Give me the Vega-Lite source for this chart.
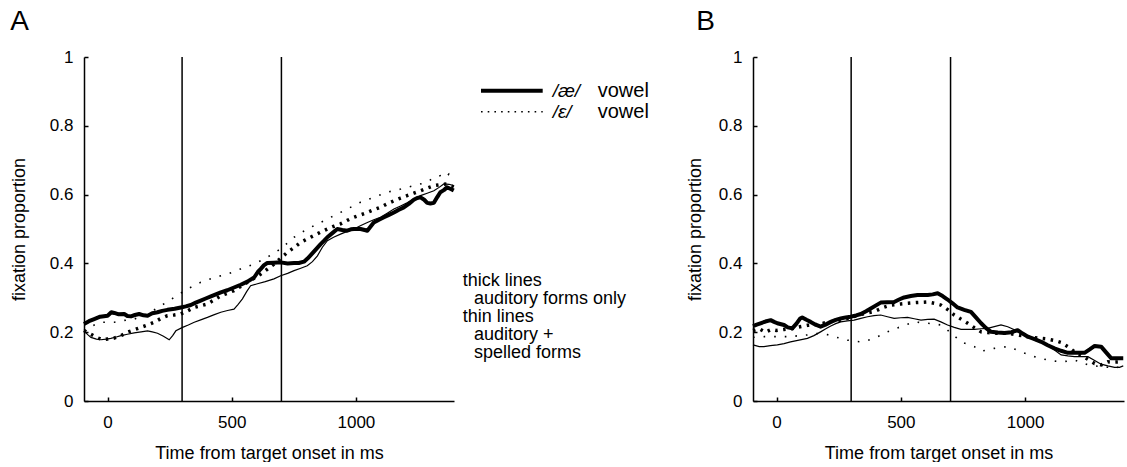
{
  "$schema": "https://vega.github.io/schema/vega-lite/v6.json",
  "background": "white",
  "padding": {"left": 10, "top": 8, "right": 0, "bottom": 0},
  "bounds": "flush",
  "spacing": 7,
  "config": {
    "font": "Liberation Sans",
    "view": {"stroke": null},
    "axis": {
      "domainColor": "black", "domainWidth": 1.5, "tickColor": "black", "tickWidth": 1.5, "tickSize": -4,
      "labelColor": "black", "titleColor": "black", "labelFontSize": 17, "titleFontSize": 18,
      "titleFontWeight": "normal", "grid": false, "labelFont": "Liberation Sans", "titleFont": "Liberation Sans"
    },
    "title": {"fontSize": 28, "fontWeight": "normal", "anchor": "start", "frame": "bounds", "color": "black", "font": "Liberation Sans", "offset": 12}
  },
  "datasets": {
    "vlines": [{"t": 300}, {"t": 700}],
    "A_ae_aud": [
      {"t":-95,"p":0.224},{"t":-75,"p":0.232},{"t":-54,"p":0.238},{"t":-30,"p":0.245},{"t":0,"p":0.248},{"t":15,"p":0.258},{"t":27,"p":0.256},{"t":45,"p":0.252},{"t":67,"p":0.253},{"t":80,"p":0.247},{"t":94,"p":0.246},{"t":110,"p":0.25},{"t":127,"p":0.253},{"t":145,"p":0.249},{"t":161,"p":0.248},{"t":180,"p":0.255},{"t":201,"p":0.258},{"t":220,"p":0.262},{"t":241,"p":0.265},{"t":270,"p":0.268},{"t":295,"p":0.272},{"t":315,"p":0.275},{"t":335,"p":0.279},{"t":355,"p":0.286},{"t":375,"p":0.292},{"t":395,"p":0.298},{"t":416,"p":0.304},{"t":436,"p":0.31},{"t":456,"p":0.316},{"t":482,"p":0.322},{"t":509,"p":0.33},{"t":536,"p":0.338},{"t":563,"p":0.347},{"t":590,"p":0.359},{"t":605,"p":0.375},{"t":617,"p":0.384},{"t":630,"p":0.395},{"t":643,"p":0.401},{"t":670,"p":0.402},{"t":697,"p":0.403},{"t":725,"p":0.4},{"t":751,"p":0.401},{"t":770,"p":0.401},{"t":791,"p":0.405},{"t":805,"p":0.414},{"t":818,"p":0.424},{"t":838,"p":0.44},{"t":858,"p":0.456},{"t":872,"p":0.466},{"t":885,"p":0.476},{"t":905,"p":0.488},{"t":925,"p":0.5},{"t":945,"p":0.497},{"t":965,"p":0.495},{"t":980,"p":0.499},{"t":992,"p":0.5},{"t":1005,"p":0.5},{"t":1019,"p":0.5},{"t":1035,"p":0.497},{"t":1046,"p":0.495},{"t":1060,"p":0.508},{"t":1072,"p":0.519},{"t":1093,"p":0.527},{"t":1113,"p":0.534},{"t":1133,"p":0.541},{"t":1153,"p":0.548},{"t":1173,"p":0.556},{"t":1193,"p":0.563},{"t":1213,"p":0.573},{"t":1233,"p":0.585},{"t":1247,"p":0.59},{"t":1260,"p":0.592},{"t":1275,"p":0.585},{"t":1287,"p":0.576},{"t":1300,"p":0.574},{"t":1314,"p":0.576},{"t":1327,"p":0.592},{"t":1340,"p":0.607},{"t":1354,"p":0.613},{"t":1367,"p":0.621},{"t":1380,"p":0.617},{"t":1394,"p":0.612}
    ],
    "A_ae_spell": [
      {"t":-95,"p":0.204},{"t":-80,"p":0.193},{"t":-67,"p":0.185},{"t":-45,"p":0.18},{"t":-27,"p":0.178},{"t":-5,"p":0.18},{"t":13,"p":0.182},{"t":35,"p":0.186},{"t":54,"p":0.19},{"t":80,"p":0.194},{"t":107,"p":0.198},{"t":135,"p":0.201},{"t":161,"p":0.204},{"t":180,"p":0.201},{"t":201,"p":0.197},{"t":225,"p":0.188},{"t":248,"p":0.178},{"t":262,"p":0.19},{"t":275,"p":0.204},{"t":302,"p":0.214},{"t":325,"p":0.221},{"t":349,"p":0.229},{"t":375,"p":0.236},{"t":402,"p":0.243},{"t":430,"p":0.251},{"t":456,"p":0.258},{"t":483,"p":0.263},{"t":509,"p":0.267},{"t":525,"p":0.28},{"t":543,"p":0.297},{"t":560,"p":0.318},{"t":576,"p":0.335},{"t":600,"p":0.34},{"t":635,"p":0.347},{"t":670,"p":0.355},{"t":697,"p":0.364},{"t":725,"p":0.371},{"t":751,"p":0.379},{"t":778,"p":0.386},{"t":804,"p":0.393},{"t":825,"p":0.405},{"t":845,"p":0.422},{"t":865,"p":0.447},{"t":885,"p":0.466},{"t":910,"p":0.476},{"t":938,"p":0.485},{"t":965,"p":0.493},{"t":992,"p":0.5},{"t":1020,"p":0.51},{"t":1046,"p":0.519},{"t":1072,"p":0.527},{"t":1099,"p":0.534},{"t":1126,"p":0.546},{"t":1153,"p":0.558},{"t":1180,"p":0.567},{"t":1206,"p":0.576},{"t":1233,"p":0.587},{"t":1260,"p":0.597},{"t":1287,"p":0.604},{"t":1314,"p":0.611},{"t":1335,"p":0.621},{"t":1354,"p":0.631},{"t":1375,"p":0.63},{"t":1394,"p":0.626}
    ],
    "A_eh_aud": [
      {"t":-95,"p":0.205},{"t":-70,"p":0.195},{"t":-45,"p":0.185},{"t":-20,"p":0.178},{"t":0,"p":0.18},{"t":27,"p":0.183},{"t":54,"p":0.19},{"t":80,"p":0.2},{"t":107,"p":0.207},{"t":134,"p":0.214},{"t":161,"p":0.221},{"t":188,"p":0.229},{"t":215,"p":0.24},{"t":241,"p":0.248},{"t":268,"p":0.25},{"t":295,"p":0.253},{"t":322,"p":0.262},{"t":349,"p":0.272},{"t":375,"p":0.277},{"t":402,"p":0.282},{"t":429,"p":0.294},{"t":456,"p":0.306},{"t":483,"p":0.313},{"t":509,"p":0.321},{"t":536,"p":0.333},{"t":563,"p":0.345},{"t":590,"p":0.357},{"t":617,"p":0.369},{"t":643,"p":0.383},{"t":670,"p":0.398},{"t":697,"p":0.415},{"t":724,"p":0.432},{"t":751,"p":0.446},{"t":777,"p":0.461},{"t":804,"p":0.471},{"t":831,"p":0.481},{"t":858,"p":0.491},{"t":885,"p":0.5},{"t":912,"p":0.508},{"t":938,"p":0.515},{"t":965,"p":0.525},{"t":992,"p":0.534},{"t":1019,"p":0.541},{"t":1046,"p":0.548},{"t":1072,"p":0.556},{"t":1099,"p":0.563},{"t":1126,"p":0.573},{"t":1153,"p":0.582},{"t":1180,"p":0.59},{"t":1206,"p":0.597},{"t":1233,"p":0.604},{"t":1260,"p":0.611},{"t":1287,"p":0.619},{"t":1314,"p":0.626},{"t":1340,"p":0.629},{"t":1367,"p":0.631},{"t":1394,"p":0.622}
    ],
    "A_eh_spell": [
      {"t":-95,"p":0.205},{"t":-60,"p":0.219},{"t":-27,"p":0.229},{"t":0,"p":0.229},{"t":27,"p":0.229},{"t":54,"p":0.233},{"t":107,"p":0.238},{"t":161,"p":0.253},{"t":215,"p":0.277},{"t":268,"p":0.301},{"t":322,"p":0.326},{"t":375,"p":0.345},{"t":429,"p":0.359},{"t":483,"p":0.369},{"t":536,"p":0.384},{"t":590,"p":0.398},{"t":643,"p":0.418},{"t":697,"p":0.442},{"t":751,"p":0.476},{"t":804,"p":0.5},{"t":858,"p":0.519},{"t":912,"p":0.539},{"t":965,"p":0.558},{"t":1019,"p":0.578},{"t":1072,"p":0.592},{"t":1126,"p":0.607},{"t":1180,"p":0.616},{"t":1233,"p":0.626},{"t":1287,"p":0.636},{"t":1314,"p":0.65},{"t":1340,"p":0.655},{"t":1360,"p":0.648},{"t":1375,"p":0.66},{"t":1394,"p":0.645}
    ],
    "B_ae_aud": [
      {"t":-95,"p":0.218},{"t":-80,"p":0.222},{"t":-65,"p":0.226},{"t":-45,"p":0.231},{"t":-24,"p":0.235},{"t":-10,"p":0.23},{"t":3,"p":0.226},{"t":30,"p":0.221},{"t":45,"p":0.214},{"t":63,"p":0.211},{"t":80,"p":0.225},{"t":95,"p":0.24},{"t":103,"p":0.243},{"t":120,"p":0.236},{"t":137,"p":0.23},{"t":157,"p":0.222},{"t":177,"p":0.216},{"t":197,"p":0.222},{"t":218,"p":0.23},{"t":238,"p":0.236},{"t":258,"p":0.24},{"t":278,"p":0.243},{"t":298,"p":0.245},{"t":320,"p":0.249},{"t":339,"p":0.253},{"t":360,"p":0.261},{"t":379,"p":0.269},{"t":400,"p":0.278},{"t":419,"p":0.286},{"t":445,"p":0.287},{"t":473,"p":0.288},{"t":493,"p":0.295},{"t":513,"p":0.301},{"t":540,"p":0.305},{"t":567,"p":0.308},{"t":590,"p":0.308},{"t":608,"p":0.308},{"t":628,"p":0.31},{"t":648,"p":0.313},{"t":668,"p":0.305},{"t":688,"p":0.295},{"t":708,"p":0.284},{"t":728,"p":0.272},{"t":755,"p":0.265},{"t":782,"p":0.259},{"t":802,"p":0.243},{"t":823,"p":0.226},{"t":843,"p":0.212},{"t":863,"p":0.201},{"t":890,"p":0.199},{"t":917,"p":0.198},{"t":945,"p":0.2},{"t":970,"p":0.206},{"t":990,"p":0.196},{"t":1011,"p":0.187},{"t":1038,"p":0.18},{"t":1065,"p":0.172},{"t":1091,"p":0.162},{"t":1118,"p":0.153},{"t":1145,"p":0.146},{"t":1172,"p":0.14},{"t":1205,"p":0.14},{"t":1239,"p":0.14},{"t":1260,"p":0.15},{"t":1280,"p":0.16},{"t":1306,"p":0.158},{"t":1325,"p":0.142},{"t":1347,"p":0.124},{"t":1370,"p":0.124},{"t":1395,"p":0.124}
    ],
    "B_ae_spell": [
      {"t":-95,"p":0.163},{"t":-70,"p":0.158},{"t":-51,"p":0.158},{"t":-25,"p":0.161},{"t":3,"p":0.163},{"t":30,"p":0.167},{"t":56,"p":0.172},{"t":90,"p":0.177},{"t":124,"p":0.182},{"t":150,"p":0.19},{"t":177,"p":0.201},{"t":198,"p":0.21},{"t":218,"p":0.218},{"t":238,"p":0.225},{"t":258,"p":0.23},{"t":285,"p":0.233},{"t":312,"p":0.235},{"t":339,"p":0.24},{"t":366,"p":0.245},{"t":392,"p":0.248},{"t":419,"p":0.25},{"t":446,"p":0.245},{"t":473,"p":0.24},{"t":500,"p":0.242},{"t":527,"p":0.243},{"t":554,"p":0.239},{"t":581,"p":0.235},{"t":608,"p":0.237},{"t":634,"p":0.238},{"t":661,"p":0.23},{"t":688,"p":0.221},{"t":715,"p":0.214},{"t":742,"p":0.208},{"t":769,"p":0.208},{"t":796,"p":0.208},{"t":823,"p":0.21},{"t":849,"p":0.211},{"t":876,"p":0.216},{"t":903,"p":0.221},{"t":930,"p":0.216},{"t":957,"p":0.207},{"t":984,"p":0.197},{"t":1011,"p":0.187},{"t":1038,"p":0.177},{"t":1065,"p":0.17},{"t":1091,"p":0.163},{"t":1118,"p":0.148},{"t":1145,"p":0.134},{"t":1172,"p":0.131},{"t":1199,"p":0.129},{"t":1226,"p":0.129},{"t":1253,"p":0.129},{"t":1280,"p":0.118},{"t":1306,"p":0.107},{"t":1333,"p":0.102},{"t":1360,"p":0.098},{"t":1380,"p":0.098},{"t":1395,"p":0.102}
    ],
    "B_eh_aud": [
      {"t":-95,"p":0.205},{"t":-70,"p":0.21},{"t":-45,"p":0.2},{"t":-20,"p":0.208},{"t":0,"p":0.205},{"t":30,"p":0.208},{"t":60,"p":0.21},{"t":90,"p":0.215},{"t":124,"p":0.22},{"t":160,"p":0.222},{"t":200,"p":0.228},{"t":230,"p":0.232},{"t":258,"p":0.235},{"t":300,"p":0.243},{"t":340,"p":0.252},{"t":392,"p":0.26},{"t":430,"p":0.272},{"t":460,"p":0.279},{"t":500,"p":0.282},{"t":527,"p":0.284},{"t":560,"p":0.286},{"t":608,"p":0.288},{"t":635,"p":0.284},{"t":661,"p":0.279},{"t":690,"p":0.265},{"t":715,"p":0.25},{"t":742,"p":0.238},{"t":769,"p":0.226},{"t":796,"p":0.213},{"t":823,"p":0.201},{"t":850,"p":0.199},{"t":876,"p":0.197},{"t":903,"p":0.197},{"t":930,"p":0.197},{"t":970,"p":0.192},{"t":1011,"p":0.187},{"t":1050,"p":0.183},{"t":1091,"p":0.18},{"t":1118,"p":0.176},{"t":1145,"p":0.17},{"t":1172,"p":0.158},{"t":1199,"p":0.143},{"t":1226,"p":0.133},{"t":1253,"p":0.121},{"t":1280,"p":0.109},{"t":1306,"p":0.105},{"t":1333,"p":0.114},{"t":1360,"p":0.113},{"t":1395,"p":0.114}
    ],
    "B_eh_spell": [
      {"t":-95,"p":0.185},{"t":-50,"p":0.187},{"t":-11,"p":0.187},{"t":22,"p":0.187},{"t":56,"p":0.187},{"t":90,"p":0.19},{"t":124,"p":0.192},{"t":150,"p":0.195},{"t":177,"p":0.197},{"t":204,"p":0.193},{"t":231,"p":0.187},{"t":258,"p":0.182},{"t":285,"p":0.177},{"t":312,"p":0.174},{"t":339,"p":0.172},{"t":366,"p":0.176},{"t":392,"p":0.182},{"t":419,"p":0.191},{"t":446,"p":0.201},{"t":473,"p":0.209},{"t":500,"p":0.216},{"t":527,"p":0.223},{"t":554,"p":0.23},{"t":581,"p":0.228},{"t":608,"p":0.226},{"t":634,"p":0.224},{"t":661,"p":0.221},{"t":682,"p":0.21},{"t":702,"p":0.197},{"t":722,"p":0.185},{"t":742,"p":0.172},{"t":769,"p":0.165},{"t":796,"p":0.158},{"t":823,"p":0.145},{"t":850,"p":0.148},{"t":876,"p":0.153},{"t":903,"p":0.156},{"t":930,"p":0.158},{"t":957,"p":0.151},{"t":984,"p":0.143},{"t":1011,"p":0.136},{"t":1038,"p":0.129},{"t":1065,"p":0.124},{"t":1091,"p":0.119},{"t":1118,"p":0.116},{"t":1145,"p":0.114},{"t":1172,"p":0.116},{"t":1199,"p":0.119},{"t":1226,"p":0.112},{"t":1253,"p":0.105},{"t":1280,"p":0.102},{"t":1306,"p":0.1},{"t":1333,"p":0.098},{"t":1360,"p":0.095},{"t":1380,"p":0.1},{"t":1395,"p":0.105}
    ],
    "legendLines": [
      {"vowel": "æ", "x1": 2.0, "x2": 8.17, "row": 1.87},
      {"vowel": "ɛ", "x1": 2.0, "x2": 8.17, "row": 3.04}
    ],
    "legendSymbols": [
      {"label": "/æ/", "col": 9.17, "row": 1.87},
      {"label": "/ɛ/", "col": 9.17, "row": 3.04}
    ],
    "legendWords": [
      {"label": "vowel", "col": 13.67, "row": 1.87},
      {"label": "vowel", "col": 13.67, "row": 3.04}
    ],
    "notes": [
      {"label": "thick lines", "col": 0.17, "row": 12.71},
      {"label": "auditory forms only", "col": 1.3, "row": 13.72},
      {"label": "thin lines", "col": 0.17, "row": 14.72},
      {"label": "auditory +", "col": 1.3, "row": 15.72},
      {"label": "spelled forms", "col": 1.3, "row": 16.72}
    ]
  },
  "hconcat": [
    {
      "width": 370, "height": 344,
      "title": {"text": "A"},
      "layer": [
        {"data": {"name": "vlines"}, "mark": {"type": "rule", "color": "black", "strokeWidth": 1.5},
         "encoding": {"x": {"field": "t", "type": "quantitative", "scale": {"domain": [-95, 1395], "nice": false, "zero": false},
           "axis": {"values": [0, 500, 1000], "format": "d", "title": "Time from target onset in ms", "labelPadding": 17, "titlePadding": 14}}}},
        {"data": {"name": "A_ae_spell"}, "mark": {"type": "line", "color": "black", "strokeWidth": 1.2},
         "encoding": {"x": {"field": "t", "type": "quantitative"},
           "y": {"field": "p", "type": "quantitative", "scale": {"domain": [0, 1], "nice": false, "zero": true},
             "axis": {"values": [0, 0.2, 0.4, 0.6, 0.8, 1], "format": "~g", "title": "fixation proportion", "labelPadding": 15, "titlePadding": 21}}}},
        {"data": {"name": "A_eh_spell"}, "mark": {"type": "line", "color": "black", "strokeWidth": 1.6, "strokeDash": [1.6, 9], "strokeCap": "butt"},
         "encoding": {"x": {"field": "t", "type": "quantitative"}, "y": {"field": "p", "type": "quantitative"}}},
        {"data": {"name": "A_eh_aud"}, "mark": {"type": "line", "color": "black", "strokeWidth": 3.5, "strokeDash": [2.5, 5.5], "strokeCap": "butt"},
         "encoding": {"x": {"field": "t", "type": "quantitative"}, "y": {"field": "p", "type": "quantitative"}}},
        {"data": {"name": "A_ae_aud"}, "mark": {"type": "line", "color": "black", "strokeWidth": 4, "strokeJoin": "round"},
         "encoding": {"x": {"field": "t", "type": "quantitative"}, "y": {"field": "p", "type": "quantitative"}}}
      ]
    },
    {
      "width": 285, "height": 344,
      "layer": [
        {"data": {"name": "legendLines"}, "transform": [{"filter": "datum.vowel === 'æ'"}],
         "mark": {"type": "rule", "color": "black", "strokeWidth": 4},
         "encoding": {"x": {"field": "x1", "type": "quantitative", "scale": {"domain": [0, 28.5], "nice": false, "zero": false}, "axis": null},
           "x2": {"field": "x2"},
           "y": {"field": "row", "type": "quantitative", "scale": {"domain": [0, 19.11], "reverse": true, "nice": false, "zero": false}, "axis": null}}},
        {"data": {"name": "legendLines"}, "transform": [{"filter": "datum.vowel === 'ɛ'"}],
         "mark": {"type": "rule", "color": "black", "strokeWidth": 1.6, "strokeDash": [1.6, 5.1], "strokeCap": "butt"},
         "encoding": {"x": {"field": "x1", "type": "quantitative"}, "x2": {"field": "x2"}, "y": {"field": "row", "type": "quantitative"}}},
        {"data": {"name": "legendSymbols"},
         "mark": {"type": "text", "align": "left", "baseline": "middle", "fontSize": 19, "fontStyle": "italic", "color": "black", "font": "Liberation Sans"},
         "encoding": {"x": {"field": "col", "type": "quantitative"}, "y": {"field": "row", "type": "quantitative"}, "text": {"field": "label"}}},
        {"data": {"name": "legendWords"},
         "mark": {"type": "text", "align": "left", "baseline": "middle", "fontSize": 20, "color": "black", "font": "Liberation Sans"},
         "encoding": {"x": {"field": "col", "type": "quantitative"}, "y": {"field": "row", "type": "quantitative"}, "text": {"field": "label"}}},
        {"data": {"name": "notes"},
         "mark": {"type": "text", "align": "left", "baseline": "alphabetic", "fontSize": 18, "color": "black", "font": "Liberation Sans"},
         "encoding": {"x": {"field": "col", "type": "quantitative"}, "y": {"field": "row", "type": "quantitative"}, "text": {"field": "label"}}}
      ]
    },
    {
      "width": 371, "height": 344,
      "title": {"text": "B", "dx": 10},
      "layer": [
        {"data": {"name": "vlines"}, "mark": {"type": "rule", "color": "black", "strokeWidth": 1.5},
         "encoding": {"x": {"field": "t", "type": "quantitative", "scale": {"domain": [-95, 1398], "nice": false, "zero": false},
           "axis": {"values": [0, 500, 1000], "format": "d", "title": "Time from target onset in ms", "labelPadding": 17, "titlePadding": 14}}}},
        {"data": {"name": "B_ae_spell"}, "mark": {"type": "line", "color": "black", "strokeWidth": 1.2},
         "encoding": {"x": {"field": "t", "type": "quantitative"},
           "y": {"field": "p", "type": "quantitative", "scale": {"domain": [0, 1], "nice": false, "zero": true},
             "axis": {"values": [0, 0.2, 0.4, 0.6, 0.8, 1], "format": "~g", "title": "fixation proportion", "labelPadding": 15, "titlePadding": 14}}}},
        {"data": {"name": "B_eh_spell"}, "mark": {"type": "line", "color": "black", "strokeWidth": 1.6, "strokeDash": [1.6, 9], "strokeCap": "butt"},
         "encoding": {"x": {"field": "t", "type": "quantitative"}, "y": {"field": "p", "type": "quantitative"}}},
        {"data": {"name": "B_eh_aud"}, "mark": {"type": "line", "color": "black", "strokeWidth": 3.5, "strokeDash": [2.5, 5.5], "strokeCap": "butt"},
         "encoding": {"x": {"field": "t", "type": "quantitative"}, "y": {"field": "p", "type": "quantitative"}}},
        {"data": {"name": "B_ae_aud"}, "mark": {"type": "line", "color": "black", "strokeWidth": 4, "strokeJoin": "round"},
         "encoding": {"x": {"field": "t", "type": "quantitative"}, "y": {"field": "p", "type": "quantitative"}}}
      ]
    }
  ]
}
